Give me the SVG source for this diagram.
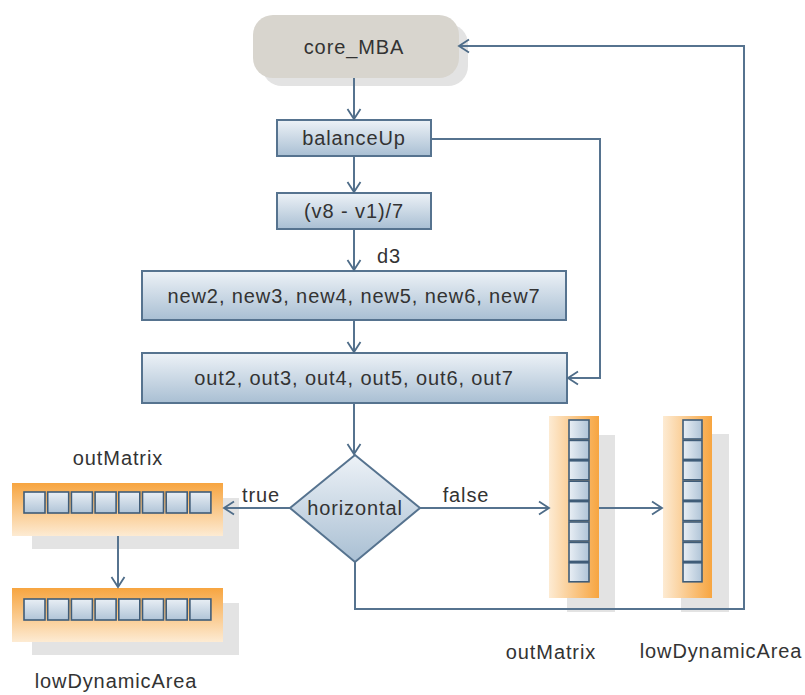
<svg xmlns="http://www.w3.org/2000/svg" width="805" height="695" viewBox="0 0 805 695">
<defs>
<linearGradient id="gBox" x1="0" y1="0" x2="0" y2="1">
<stop offset="0" stop-color="#edf2f7"/>
<stop offset="1" stop-color="#a9bfd3"/>
</linearGradient>
<linearGradient id="gCell" x1="0" y1="0" x2="0" y2="1">
<stop offset="0" stop-color="#e9eff5"/>
<stop offset="1" stop-color="#b0c4d7"/>
</linearGradient>
<linearGradient id="gCellV" x1="0" y1="0" x2="1" y2="0">
<stop offset="0" stop-color="#e9eff5"/>
<stop offset="1" stop-color="#b0c4d7"/>
</linearGradient>
<linearGradient id="gOrH" x1="0" y1="0" x2="0" y2="1">
<stop offset="0" stop-color="#f7a540"/>
<stop offset="1" stop-color="#fdebd3"/>
</linearGradient>
<linearGradient id="gOrV" x1="1" y1="0" x2="0" y2="0">
<stop offset="0" stop-color="#f7a540"/>
<stop offset="1" stop-color="#fdebd3"/>
</linearGradient>
<marker id="arr" markerUnits="userSpaceOnUse" markerWidth="14" markerHeight="16" viewBox="-12 -8 14 16" refX="0" refY="0" orient="auto">
<path d="M-10,-6.5 L0,0 L-10,6.5" fill="none" stroke="#4e6c88" stroke-width="1.8"/>
</marker>
</defs>
<style>
.t{font-family:"Liberation Sans",Arial,sans-serif;font-size:20px;letter-spacing:0.9px;fill:#333;text-anchor:middle}
.box{fill:url(#gBox);stroke:#56738f;stroke-width:2}
.cell{fill:url(#gCell);stroke:#3f5c78;stroke-width:1.6}
.cellv{fill:url(#gCellV);stroke:#3f5c78;stroke-width:1.6}
.sh{fill:#e3e3e3}
.c{fill:none;stroke:#56738f;stroke-width:2}
</style>

<g id="core_MBA">
<rect x="262" y="24" width="206" height="62" rx="20" class="sh"/>
<rect x="253" y="15" width="206" height="63" rx="20" fill="#d8d5ce"/>
<text class="t" x="354" y="54">core_MBA</text>
</g>

<g id="balanceUp">
<rect x="277" y="120" width="154" height="36" class="box"/>
<text class="t" x="354" y="145">balanceUp</text>
</g>

<g id="d3calc">
<rect x="277" y="193" width="154" height="36" class="box"/>
<text class="t" x="354" y="218">(v8 - v1)/7</text>
</g>

<g id="newValues">
<rect x="142" y="271" width="424" height="49" class="box"/>
<text class="t" x="354" y="303">new2, new3, new4, new5, new6, new7</text>
</g>

<g id="outValues">
<rect x="142" y="353" width="425" height="50" class="box"/>
<text class="t" x="354" y="385">out2, out3, out4, out5, out6, out7</text>
</g>

<g id="horizontal">
<polygon points="355,455 420,508 355,562 290,508" class="box"/>
<text class="t" x="355" y="515">horizontal</text>
</g>

<g id="outMatrixH">
<text class="t" x="118" y="465">outMatrix</text>
<rect x="32" y="498" width="207" height="51" class="sh"/>
<rect x="12" y="483" width="211" height="53" fill="url(#gOrH)"/>
<rect x="24" y="492" width="21" height="21" class="cell"/>
<rect x="47.7" y="492" width="21" height="21" class="cell"/>
<rect x="71.4" y="492" width="21" height="21" class="cell"/>
<rect x="95.1" y="492" width="21" height="21" class="cell"/>
<rect x="118.8" y="492" width="21" height="21" class="cell"/>
<rect x="142.5" y="492" width="21" height="21" class="cell"/>
<rect x="166.2" y="492" width="21" height="21" class="cell"/>
<rect x="189.9" y="492" width="21" height="21" class="cell"/>
</g>

<g id="lowDynamicAreaH">
<rect x="32" y="603" width="207" height="52" class="sh"/>
<rect x="12" y="588" width="211" height="54" fill="url(#gOrH)"/>
<rect x="24" y="599" width="21" height="21" class="cell"/>
<rect x="47.7" y="599" width="21" height="21" class="cell"/>
<rect x="71.4" y="599" width="21" height="21" class="cell"/>
<rect x="95.1" y="599" width="21" height="21" class="cell"/>
<rect x="118.8" y="599" width="21" height="21" class="cell"/>
<rect x="142.5" y="599" width="21" height="21" class="cell"/>
<rect x="166.2" y="599" width="21" height="21" class="cell"/>
<rect x="189.9" y="599" width="21" height="21" class="cell"/>
<text class="t" x="116" y="688">lowDynamicArea</text>
</g>

<g id="outMatrixV">
<rect x="567" y="435" width="48" height="177" class="sh"/>
<rect x="549" y="416" width="50" height="182" fill="url(#gOrV)"/>
<rect x="569" y="420" width="20" height="19" class="cellv"/>
<rect x="569" y="440.4" width="20" height="19" class="cellv"/>
<rect x="569" y="460.8" width="20" height="19" class="cellv"/>
<rect x="569" y="481.2" width="20" height="19" class="cellv"/>
<rect x="569" y="501.6" width="20" height="19" class="cellv"/>
<rect x="569" y="522" width="20" height="19" class="cellv"/>
<rect x="569" y="542.4" width="20" height="19" class="cellv"/>
<rect x="569" y="562.8" width="20" height="19" class="cellv"/>
<text class="t" x="551" y="659">outMatrix</text>
</g>

<g id="lowDynamicAreaV">
<rect x="681" y="434" width="48" height="178" class="sh"/>
<rect x="663" y="416" width="49" height="182" fill="url(#gOrV)"/>
<rect x="683" y="420" width="19" height="19" class="cellv"/>
<rect x="683" y="440.4" width="19" height="19" class="cellv"/>
<rect x="683" y="460.8" width="19" height="19" class="cellv"/>
<rect x="683" y="481.2" width="19" height="19" class="cellv"/>
<rect x="683" y="501.6" width="19" height="19" class="cellv"/>
<rect x="683" y="522" width="19" height="19" class="cellv"/>
<rect x="683" y="542.4" width="19" height="19" class="cellv"/>
<rect x="683" y="562.8" width="19" height="19" class="cellv"/>
<text class="t" x="721" y="658">lowDynamicArea</text>
</g>

<g id="connectors">
<path class="c" d="M354,78 V119" marker-end="url(#arr)"/>
<path class="c" d="M354,156 V192" marker-end="url(#arr)"/>
<path class="c" d="M354,229 V270" marker-end="url(#arr)"/>
<text class="t" x="389" y="263">d3</text>
<path class="c" d="M354,320 V352" marker-end="url(#arr)"/>
<path class="c" d="M431,139 H600 V378 H568" marker-end="url(#arr)"/>
<path class="c" d="M354,403 V454" marker-end="url(#arr)"/>
<path class="c" d="M290,508 H224" marker-end="url(#arr)"/>
<text class="t" x="261" y="502">true</text>
<path class="c" d="M420,508 H549" marker-end="url(#arr)"/>
<text class="t" x="466" y="502">false</text>
<path class="c" d="M599,508 H662" marker-end="url(#arr)"/>
<path class="c" d="M118,536 V587" marker-end="url(#arr)"/>
<path class="c" d="M355,562 V609 H744 V46 H459" marker-end="url(#arr)"/>
</g>
</svg>
